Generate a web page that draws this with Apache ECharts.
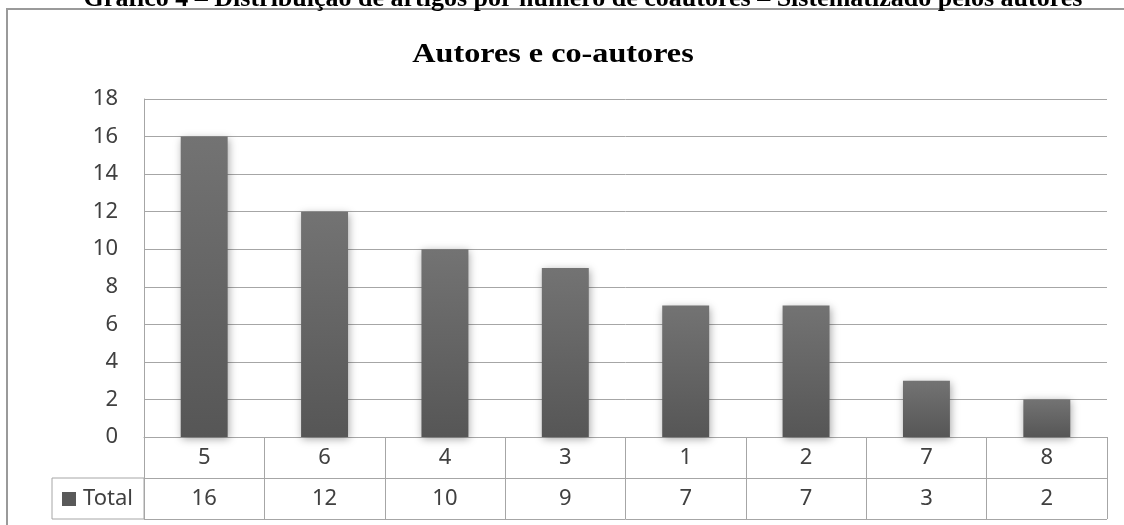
<!DOCTYPE html>
<html>
<head>
<meta charset="utf-8">
<script src="https://cdn.jsdelivr.net/npm/echarts@6/dist/echarts.min.js"></script>
<style>html,body{margin:0;padding:0;background:#fff}#c{width:1124px;height:525px}</style>
</head>
<body>
<div id="c"></div>
<script>
const chartTitle = 'Autores e co-autores';
const caption = 'Gráfico 4 – Distribuição de artigos por número de coautores – Sistematizado pelos autores';
const categories = ['5', '6', '4', '3', '1', '2', '7', '8'];
const seriesName = 'Total';
const totals = [16, 12, 10, 9, 7, 7, 3, 2];
const yTicks = { min: 0, max: 18, interval: 2 };

const gridColor = '#a6a6a6';
const sans = 'Noto Sans';
const chart = echarts.init(document.getElementById('c'), null, { renderer: 'canvas' });
chart.setOption({
  animation: false,
  backgroundColor: '#fff',
  title: [
    { text: caption, left: 578, top: -19, textAlign: 'center',
      textStyle: { fontFamily: 'Liberation Serif', fontWeight: 'bold', fontSize: 26, color: '#000' } }
  ],
  legend: {
    data: [seriesName], left: 62, top: 488, icon: 'rect', itemWidth: 14, itemHeight: 14, itemGap: 0,
    padding: 0, textStyle: { fontFamily: sans, fontSize: 22, color: '#404040', padding: [0, 0, 0, 2] },
    itemStyle: { color: '#595959' }
  },
  graphic: [
    { type: 'rect', shape: { x: 7, y: 9, width: 1140, height: 600 }, style: { fill: 'none', stroke: '#9a9a9a', lineWidth: 2 }, silent: true },
    { type: 'rect', shape: { x: 52, y: 478, width: 92, height: 41 }, style: { fill: 'none', stroke: gridColor, lineWidth: 1 }, silent: true },
    { type: 'text', x: 553, y: 55, scaleX: 1.15,
      style: { text: chartTitle, fontFamily: 'Liberation Serif', fontWeight: 'bold', fontSize: 28, fill: '#000',
        align: 'center', verticalAlign: 'middle' }, silent: true }
  ],
  grid: [
    { left: 144, right: 17, top: 99, bottom: 88 },
    { left: 144, right: 17, top: 437, height: 82 }
  ],
  xAxis: [
    { type: 'category', data: categories, gridIndex: 0,
      axisLine: { show: true, lineStyle: { color: gridColor } }, axisTick: { show: false },
      axisLabel: { margin: 0, interval: 0,
        formatter: (v, i) => '{a|' + v + '}\n{a|' + totals[i] + '}',
        rich: { a: { fontFamily: sans, fontSize: 22, color: '#404040', lineHeight: 41, align: 'center' } } } },
    { type: 'category', data: categories, gridIndex: 1,
      axisLine: { show: false }, axisTick: { show: false }, axisLabel: { show: false },
      splitLine: { show: true, interval: 0, lineStyle: { color: gridColor, width: 1 } } }
  ],
  yAxis: [
    { type: 'value', gridIndex: 0, min: yTicks.min, max: yTicks.max, interval: yTicks.interval,
      axisLine: { show: true, lineStyle: { color: gridColor } }, axisTick: { show: false },
      axisLabel: { margin: 26, fontFamily: sans, fontSize: 22, color: '#404040' },
      splitLine: { show: true, lineStyle: { color: gridColor, width: 1 } } },
    { type: 'value', gridIndex: 1, min: 0, max: 2, interval: 1, inverse: true,
      axisLine: { show: false }, axisTick: { show: false }, axisLabel: { show: false },
      splitLine: { show: true, lineStyle: { color: gridColor, width: 1 } } }
  ],
  series: [{
    name: seriesName, type: 'bar', xAxisIndex: 0, yAxisIndex: 0, data: totals, barWidth: '39%',
    itemStyle: {
      color: new echarts.graphic.LinearGradient(0, 0, 0, 1, [
        { offset: 0, color: '#737373' }, { offset: 1, color: '#565656' }
      ]),
      shadowColor: 'rgba(0,0,0,0.35)', shadowBlur: 8, shadowOffsetX: 1, shadowOffsetY: 2
    }
  }]
});
</script>
</body>
</html>
